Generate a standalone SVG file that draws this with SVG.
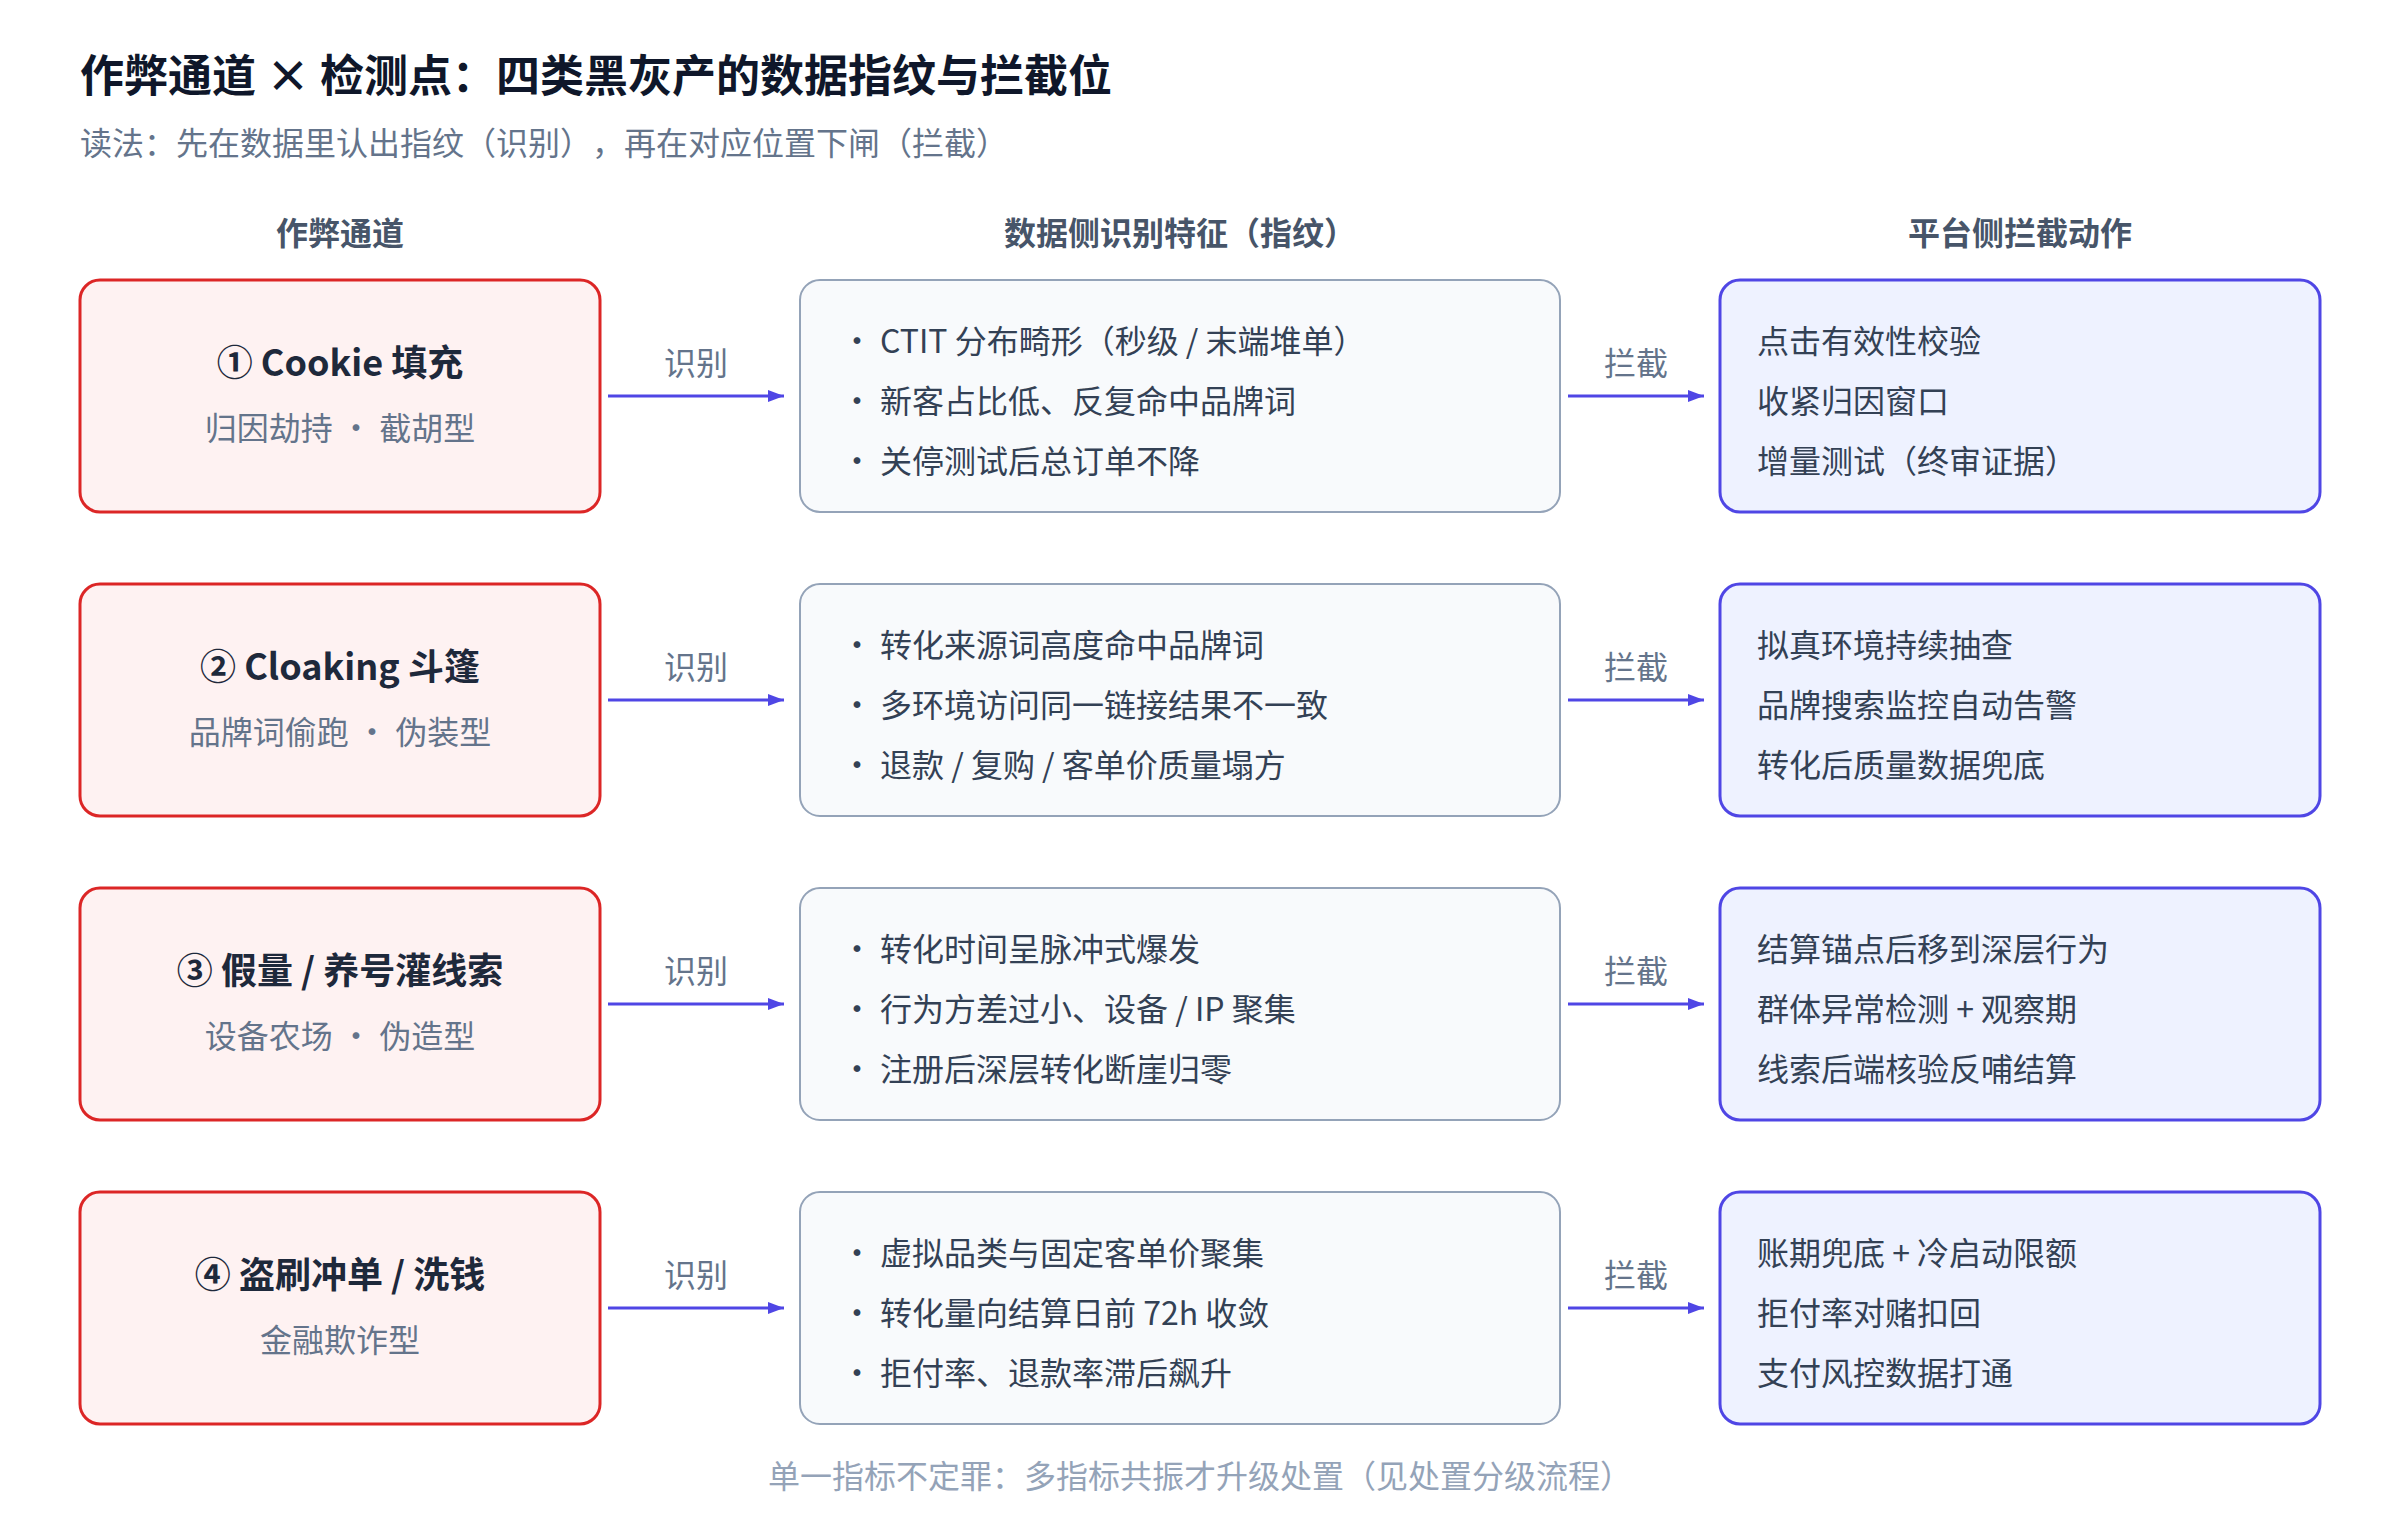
<svg xmlns="http://www.w3.org/2000/svg" width="2400" height="1520" viewBox="0 0 2400 1520">
  <defs>
    <marker id="arrow" viewBox="0 0 16 12" refX="16" refY="6" markerWidth="16" markerHeight="12" markerUnits="userSpaceOnUse" orient="auto">
      <path d="M0,0 L16,6 L0,12 Z" fill="#4f46e5"/>
    </marker>
    <style>
      text { font-family: "Noto Sans CJK SC", "Noto Sans", sans-serif; }
      .title { font-size: 44px; font-weight: 700; fill: #0f172a; }
      .subtitle { font-size: 32px; fill: #64748b; }
      .colhead { font-size: 32px; font-weight: 700; fill: #475569; text-anchor: middle; }
      .channel { fill: #fef2f2; stroke: #dc2626; stroke-width: 3; }
      .signal { fill: #f8fafc; stroke: #94a3b8; stroke-width: 2; }
      .action { fill: #eef2ff; stroke: #4f46e5; stroke-width: 3; }
      .name { font-size: 36px; font-weight: 700; fill: #1e293b; text-anchor: middle; }
      .kind { font-size: 32px; fill: #64748b; text-anchor: middle; }
      .item { font-size: 32px; fill: #334155; }
      .dot { font-size: 32px; fill: #334155; text-anchor: middle; }
      .edge { stroke: #4f46e5; stroke-width: 3; fill: none; }
      .elabel { font-size: 32px; fill: #64748b; text-anchor: middle; }
      .note { font-size: 32px; fill: #94a3b8; text-anchor: middle; }
    </style>
  </defs>

  <rect width="2400" height="1520" fill="#ffffff"/>

  <!-- Heading -->
  <text class="title" x="80" y="92">作弊通道 × 检测点：四类黑灰产的数据指纹与拦截位</text>
  <!-- full-width comma kept at full advance -->
  <text class="subtitle" x="80" y="155">读法：先在数据里认出指纹（识别）</text>
  <text class="subtitle" x="592" y="155">，再在对应位置下闸（拦截）</text>

  <!-- Column headers -->
  <text class="colhead" x="340" y="245">作弊通道</text>
  <text class="colhead" x="1180" y="245">数据侧识别特征（指纹）</text>
  <text class="colhead" x="2020" y="245">平台侧拦截动作</text>

  <!-- Row 1 -->
  <g id="channel-1">
    <rect class="channel" x="80" y="280" width="520" height="232" rx="20"/>
    <text class="name" x="340" y="376">① Cookie 填充</text>
    <text class="kind" x="340" y="440">归因劫持 · 截胡型</text>
  </g>
  <g id="signal-1">
    <rect class="signal" x="800" y="280" width="760" height="232" rx="20"/>
    <text class="dot" x="857" y="353">•</text>
    <text class="item" x="880" y="353">CTIT 分布畸形（秒级 / 末端堆单）</text>
    <text class="dot" x="857" y="413">•</text>
    <text class="item" x="880" y="413">新客占比低、反复命中品牌词</text>
    <text class="dot" x="857" y="473">•</text>
    <text class="item" x="880" y="473">关停测试后总订单不降</text>
  </g>
  <g id="action-1">
    <rect class="action" x="1720" y="280" width="600" height="232" rx="20"/>
    <text class="item" x="1757" y="353">点击有效性校验</text>
    <text class="item" x="1757" y="413">收紧归因窗口</text>
    <text class="item" x="1757" y="473">增量测试（终审证据）</text>
  </g>

  <!-- Row 2 -->
  <g id="channel-2">
    <rect class="channel" x="80" y="584" width="520" height="232" rx="20"/>
    <text class="name" x="340" y="680">② Cloaking 斗篷</text>
    <text class="kind" x="340" y="744">品牌词偷跑 · 伪装型</text>
  </g>
  <g id="signal-2">
    <rect class="signal" x="800" y="584" width="760" height="232" rx="20"/>
    <text class="dot" x="857" y="657">•</text>
    <text class="item" x="880" y="657">转化来源词高度命中品牌词</text>
    <text class="dot" x="857" y="717">•</text>
    <text class="item" x="880" y="717">多环境访问同一链接结果不一致</text>
    <text class="dot" x="857" y="777">•</text>
    <text class="item" x="880" y="777">退款 / 复购 / 客单价质量塌方</text>
  </g>
  <g id="action-2">
    <rect class="action" x="1720" y="584" width="600" height="232" rx="20"/>
    <text class="item" x="1757" y="657">拟真环境持续抽查</text>
    <text class="item" x="1757" y="717">品牌搜索监控自动告警</text>
    <text class="item" x="1757" y="777">转化后质量数据兜底</text>
  </g>

  <!-- Row 3 -->
  <g id="channel-3">
    <rect class="channel" x="80" y="888" width="520" height="232" rx="20"/>
    <text class="name" x="340" y="984">③ 假量 / 养号灌线索</text>
    <text class="kind" x="340" y="1048">设备农场 · 伪造型</text>
  </g>
  <g id="signal-3">
    <rect class="signal" x="800" y="888" width="760" height="232" rx="20"/>
    <text class="dot" x="857" y="961">•</text>
    <text class="item" x="880" y="961">转化时间呈脉冲式爆发</text>
    <text class="dot" x="857" y="1021">•</text>
    <text class="item" x="880" y="1021">行为方差过小、设备 / IP 聚集</text>
    <text class="dot" x="857" y="1081">•</text>
    <text class="item" x="880" y="1081">注册后深层转化断崖归零</text>
  </g>
  <g id="action-3">
    <rect class="action" x="1720" y="888" width="600" height="232" rx="20"/>
    <text class="item" x="1757" y="961">结算锚点后移到深层行为</text>
    <text class="item" x="1757" y="1021">群体异常检测 + 观察期</text>
    <text class="item" x="1757" y="1081">线索后端核验反哺结算</text>
  </g>

  <!-- Row 4 -->
  <g id="channel-4">
    <rect class="channel" x="80" y="1192" width="520" height="232" rx="20"/>
    <text class="name" x="340" y="1288">④ 盗刷冲单 / 洗钱</text>
    <text class="kind" x="340" y="1352">金融欺诈型</text>
  </g>
  <g id="signal-4">
    <rect class="signal" x="800" y="1192" width="760" height="232" rx="20"/>
    <text class="dot" x="857" y="1265">•</text>
    <text class="item" x="880" y="1265">虚拟品类与固定客单价聚集</text>
    <text class="dot" x="857" y="1325">•</text>
    <text class="item" x="880" y="1325">转化量向结算日前 72h 收敛</text>
    <text class="dot" x="857" y="1385">•</text>
    <text class="item" x="880" y="1385">拒付率、退款率滞后飙升</text>
  </g>
  <g id="action-4">
    <rect class="action" x="1720" y="1192" width="600" height="232" rx="20"/>
    <text class="item" x="1757" y="1265">账期兜底 + 冷启动限额</text>
    <text class="item" x="1757" y="1325">拒付率对赌扣回</text>
    <text class="item" x="1757" y="1385">支付风控数据打通</text>
  </g>

  <!-- Connectors -->
  <g id="connectors">
    <line class="edge" x1="608" y1="396" x2="784" y2="396" marker-end="url(#arrow)"/>
    <text class="elabel" x="696" y="375">识别</text>
    <line class="edge" x1="1568" y1="396" x2="1704" y2="396" marker-end="url(#arrow)"/>
    <text class="elabel" x="1636" y="375">拦截</text>

    <line class="edge" x1="608" y1="700" x2="784" y2="700" marker-end="url(#arrow)"/>
    <text class="elabel" x="696" y="679">识别</text>
    <line class="edge" x1="1568" y1="700" x2="1704" y2="700" marker-end="url(#arrow)"/>
    <text class="elabel" x="1636" y="679">拦截</text>

    <line class="edge" x1="608" y1="1004" x2="784" y2="1004" marker-end="url(#arrow)"/>
    <text class="elabel" x="696" y="983">识别</text>
    <line class="edge" x1="1568" y1="1004" x2="1704" y2="1004" marker-end="url(#arrow)"/>
    <text class="elabel" x="1636" y="983">拦截</text>

    <line class="edge" x1="608" y1="1308" x2="784" y2="1308" marker-end="url(#arrow)"/>
    <text class="elabel" x="696" y="1287">识别</text>
    <line class="edge" x1="1568" y1="1308" x2="1704" y2="1308" marker-end="url(#arrow)"/>
    <text class="elabel" x="1636" y="1287">拦截</text>
  </g>

  <!-- Footnote -->
  <text class="note" x="1200" y="1488">单一指标不定罪：多指标共振才升级处置（见处置分级流程）</text>
</svg>
